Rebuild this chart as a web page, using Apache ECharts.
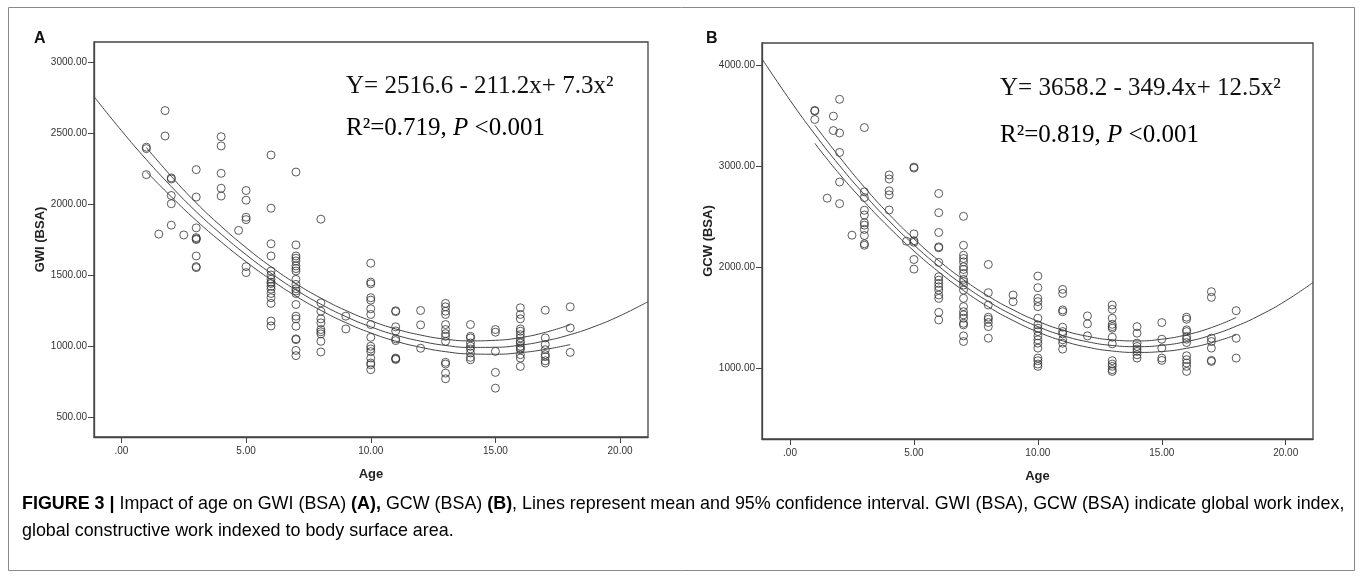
<!DOCTYPE html>
<html>
<head>
<meta charset="utf-8">
<title>Figure 3</title>
<script src="https://cdn.jsdelivr.net/npm/echarts@6.0.0/dist/echarts.min.js"></script>
<style>
  html, body { margin: 0; padding: 0; background: #fff; }
  #chart { width: 1362px; height: 579px; }
</style>
</head>
<body>
<div id="chart"></div>
<script>
// age groups (same in both panels)
var ages = [1, 1.5, 1.75, 2, 2.5, 3, 4, 4.7, 5, 6, 7, 8, 9, 10, 11, 12, 13, 14, 15, 16, 17, 18];

// GWI (BSA), one list per age group
var gwiValues = [
  [2400, 2390, 2207],
  [1788],
  [2658, 2479],
  [2184, 2176, 2060, 2002, 1851],
  [1782],
  [2242, 2049, 1832, 1763, 1755, 1750, 1634, 1559, 1552],
  [2474, 2409, 2216, 2111, 2056],
  [1814],
  [2095, 2027, 1907, 1890, 1559, 1517],
  [2345, 1970, 1720, 1634, 1528, 1500, 1470, 1450, 1440, 1420, 1400, 1370, 1340, 1300, 1176, 1141],
  [2225, 1712, 1634, 1618, 1599, 1564, 1545, 1528, 1469, 1434, 1403, 1387, 1370, 1292, 1210, 1191, 1139, 1050, 1045, 969, 932],
  [1893, 1304, 1245, 1191, 1163, 1116, 1100, 1085, 1033, 958],
  [1210, 1120],
  [1583, 1450, 1438, 1340, 1323, 1262, 1222, 1151, 1061, 998, 979, 960, 915, 880, 868, 833],
  [1248, 1242, 1135, 1106, 1050, 1038, 915, 910, 905],
  [1250, 1149, 984],
  [1300, 1276, 1245, 1222, 1151, 1116, 1087, 1068, 1033, 885, 873, 809, 769],
  [1151, 1068, 1057, 1021, 998, 979, 951, 920, 903],
  [1116, 1097, 962, 814, 703],
  [1269, 1222, 1191, 1120, 1104, 1080, 1057, 1033, 1021, 998, 986, 974, 939, 915, 856],
  [1252, 1057, 1010, 974, 939, 925, 896, 880],
  [1276, 1127, 955]
];

// GCW (BSA), one list per age group
var gcwValues = [
  [3557, 3550, 3467],
  [2687],
  [3500, 3357],
  [3667, 3333, 3140, 2847, 2633],
  [2320],
  [3387, 2750, 2693, 2567, 2520, 2443, 2420, 2377, 2317, 2235, 2220],
  [2917, 2877, 2760, 2720, 2570],
  [2260],
  [2995, 2985, 2333, 2265, 2250, 2079, 1984],
  [2733, 2543, 2347, 2205, 2195, 2050, 1908, 1875, 1842, 1809, 1776, 1727, 1694, 1555, 1480],
  [2507, 2220, 2122, 2089, 2056, 2007, 1980, 1941, 1882, 1859, 1826, 1776, 1694, 1612, 1562, 1530, 1497, 1447, 1431, 1322, 1266],
  [2030, 1750, 1628, 1507, 1487, 1454, 1414, 1299],
  [1727, 1661],
  [1915, 1800, 1694, 1661, 1612, 1497, 1431, 1398, 1365, 1322, 1283, 1250, 1201, 1102, 1076, 1043, 1020],
  [1783, 1743, 1579, 1562, 1408, 1365, 1342, 1283, 1250, 1191],
  [1520, 1441, 1322],
  [1628, 1585, 1497, 1437, 1414, 1398, 1309, 1243, 1076, 1043, 1020, 987, 970],
  [1414, 1349, 1250, 1217, 1191, 1168, 1135, 1102],
  [1454, 1289, 1201, 1102, 1079],
  [1507, 1487, 1382, 1365, 1316, 1289, 1256, 1125, 1086, 1053, 1020, 970],
  [1760, 1704, 1299, 1266, 1201, 1079, 1069],
  [1572, 1299, 1102]
];

// fitted curves
var fitAgesA = [-1.1, 0, 1, 2, 3, 4, 5, 6, 7, 8, 9, 10, 11, 12, 13, 14, 15, 16, 17, 18, 19, 20, 21.12];
var gwiFit = [2757, 2517, 2313, 2123, 1946, 1788, 1643, 1512, 1395, 1294, 1207, 1135, 1077, 1034, 1004, 990, 991, 1006, 1036, 1080, 1139, 1213, 1312];
var fitAgesB = [-1.13, 0, 1, 2, 3, 4, 5, 6, 7, 8, 9, 10, 11, 12, 13, 14, 15, 16, 17, 18, 19, 20, 21.1];
var gcwFit = [4068, 3658, 3321, 3009, 2723, 2461, 2224, 2012, 1825, 1663, 1527, 1414, 1326, 1264, 1227, 1215, 1228, 1266, 1329, 1418, 1532, 1670, 1851];

// 95% confidence band
var ciAges = [1, 2, 3, 4, 5, 6, 7, 8, 9, 10, 11, 12, 13, 14, 15, 16, 17, 18];
var gwiUpper = [2398, 2195, 2008, 1843, 1693, 1558, 1439, 1337, 1250, 1178, 1120, 1077, 1048, 1036, 1040, 1059, 1096, 1150];
var gwiLower = [2228, 2051, 1884, 1733, 1593, 1466, 1351, 1251, 1164, 1092, 1034, 991, 960, 944, 942, 953, 976, 1010];
var gcwUpper = [3411, 3094, 2796, 2526, 2284, 2068, 1879, 1716, 1580, 1467, 1379, 1318, 1282, 1272, 1289, 1333, 1404, 1504];
var gcwLower = [3231, 2924, 2650, 2396, 2164, 1956, 1771, 1610, 1474, 1361, 1273, 1210, 1172, 1158, 1167, 1199, 1254, 1332];

// tick labels
var xTicks = [0, 5, 10, 15, 20];
var gwiTicks = [500, 1000, 1500, 2000, 2500, 3000];
var gcwTicks = [1000, 2000, 3000, 4000];

function points(groups) {
  var out = [];
  for (var i = 0; i < ages.length; i++) {
    for (var j = 0; j < groups[i].length; j++) out.push([ages[i], groups[i][j]]);
  }
  return out;
}
function zip(xs, ys) {
  return xs.map(function (x, i) { return [x, ys[i]]; });
}
function fmt(v) {
  var s = v.toFixed(2);
  return s.indexOf('0.') === 0 ? s.slice(1) : s;
}

var ink = '#444';
var tickFont = { fontFamily: 'Liberation Sans', fontSize: 10, color: '#333' };
var nameFont = { fontFamily: 'Liberation Sans', fontSize: 13, fontWeight: 'bold', color: '#222' };

function xAxis(idx, min, max) {
  return {
    type: 'value', gridIndex: idx, min: min, max: max,
    name: 'Age', nameLocation: 'middle', nameGap: 31, nameTextStyle: nameFont,
    axisLine: { show: true, onZero: false, lineStyle: { color: ink, width: 1.3 } },
    axisTick: { show: true, length: 6, customValues: xTicks, lineStyle: { color: ink } },
    axisLabel: Object.assign({ customValues: xTicks, formatter: fmt, margin: 9 }, tickFont),
    splitLine: { show: false }
  };
}
function yAxis(idx, min, max, ticks, name) {
  return {
    type: 'value', gridIndex: idx, min: min, max: max,
    name: name, nameLocation: 'middle', nameGap: 44, nameTextStyle: nameFont,
    axisLine: { show: true, onZero: false, lineStyle: { color: ink, width: 1.3 } },
    axisTick: { show: true, length: 6, customValues: ticks, lineStyle: { color: ink } },
    axisLabel: Object.assign({ customValues: ticks, formatter: fmt, margin: 7 }, tickFont),
    splitLine: { show: false }
  };
}
function scatter(idx, data) {
  return {
    type: 'scatter', xAxisIndex: idx, yAxisIndex: idx, data: data,
    symbol: 'circle', symbolSize: 8, silent: true,
    itemStyle: { color: 'rgba(255,255,255,0)', borderColor: '#333', borderWidth: 1 }
  };
}
function curve(idx, data) {
  return {
    type: 'line', xAxisIndex: idx, yAxisIndex: idx, data: data,
    smooth: true, symbol: 'none', silent: true, clip: true,
    lineStyle: { color: ink, width: 1 }
  };
}

var serif = 'Liberation Serif';
function equation(x, y, text) {
  return {
    type: 'text', left: x, top: y,
    style: { text: text, font: '25px "' + serif + '"', fill: '#111' }
  };
}
function fitStats(x, y, r2) {
  return {
    type: 'text', left: x, top: y,
    style: {
      text: '{n|R²=' + r2 + ', }{i|P}{n| <0.001}',
      rich: {
        n: { fontFamily: serif, fontSize: 25, color: '#111' },
        i: { fontFamily: serif, fontSize: 25, fontStyle: 'italic', color: '#111' }
      }
    }
  };
}
var capRich = {
  b: { fontFamily: 'Liberation Sans', fontSize: 17.9, fontWeight: 'bold', color: '#333' },
  n: { fontFamily: 'Liberation Sans', fontSize: 17.9, color: '#333' }
};

var chart = echarts.init(document.getElementById('chart'));
chart.setOption({
  backgroundColor: '#fff',
  animation: false,
  grid: [
    { left: 94, top: 42, width: 554, height: 395, show: true, borderColor: ink, borderWidth: 1.3 },
    { left: 762, top: 43, width: 551, height: 396, show: true, borderColor: ink, borderWidth: 1.3 }
  ],
  xAxis: [xAxis(0, -1.1, 21.12), xAxis(1, -1.13, 21.1)],
  yAxis: [yAxis(0, 359, 3141, gwiTicks, 'GWI (BSA)'), yAxis(1, 300, 4225, gcwTicks, 'GCW (BSA)')],
  series: [
    scatter(0, points(gwiValues)),
    curve(0, zip(fitAgesA, gwiFit)),
    curve(0, zip(ciAges, gwiUpper)),
    curve(0, zip(ciAges, gwiLower)),
    scatter(1, points(gcwValues)),
    curve(1, zip(fitAgesB, gcwFit)),
    curve(1, zip(ciAges, gcwUpper)),
    curve(1, zip(ciAges, gcwLower))
  ],
  graphic: [
    { type: 'rect', shape: { x: 8.5, y: 7.5, width: 1346, height: 563 }, style: { fill: 'none', stroke: '#888', lineWidth: 1 } },
    { type: 'text', left: 34, top: 31, style: { text: 'A', font: 'bold 16px "Liberation Sans"', fill: '#111' } },
    { type: 'text', left: 706, top: 31, style: { text: 'B', font: 'bold 16px "Liberation Sans"', fill: '#111' } },
    equation(346, 74, 'Y= 2516.6 - 211.2x+ 7.3x²'),
    fitStats(346, 116, '0.719'),
    equation(1000, 76, 'Y= 3658.2 - 349.4x+ 12.5x²'),
    fitStats(1000, 123, '0.819'),
    {
      type: 'text', left: 22, top: 495,
      style: {
        text: '{b|FIGURE 3 |}{n| Impact of age on GWI (BSA) }{b|(A),}{n| GCW (BSA) }{b|(B)}{n|, Lines represent mean and 95% confidence interval. GWI (BSA), GCW (BSA) indicate global work index,}',
        rich: capRich
      }
    },
    {
      type: 'text', left: 22, top: 522,
      style: { text: '{n|global constructive work indexed to body surface area.}', rich: capRich }
    }
  ]
});
</script>
</body>
</html>
